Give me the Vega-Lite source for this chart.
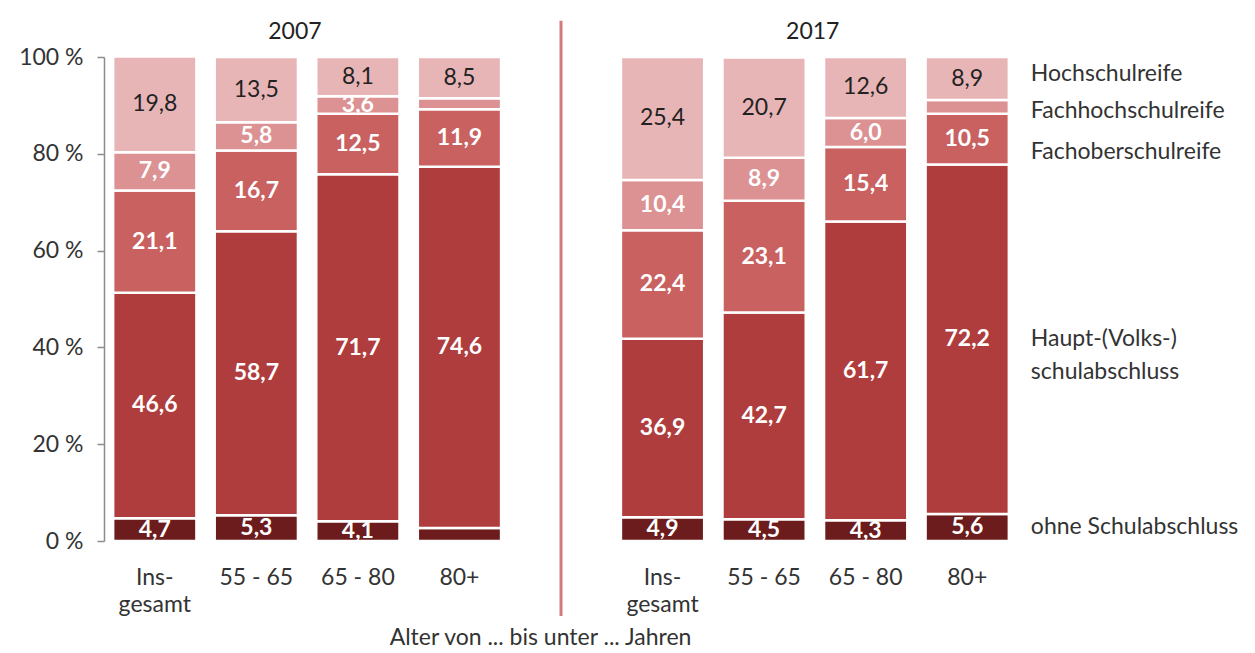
{
  "$schema": "https://vega.github.io/schema/vega-lite/v6.json",
  "width": 914,
  "height": 484,
  "autosize": {"type": "none"},
  "padding": {"left": 104, "top": 57, "right": 237, "bottom": 112},
  "background": "white",
  "config": {
    "locale": {"number": {"decimal": ",", "thousands": ".", "grouping": [3], "currency": ["", " €"]}},
    "font": "Lato",
    "view": {"stroke": null}
  },
  "data": {
    "values": [
      {"slot": "2007 Ins", "cat": "ohne Schulabschluss", "rank": 1, "value": 4.7},
      {"slot": "2007 Ins", "cat": "Haupt-(Volks-)\nschulabschluss", "rank": 2, "value": 46.6},
      {"slot": "2007 Ins", "cat": "Fachoberschulreife", "rank": 3, "value": 21.1},
      {"slot": "2007 Ins", "cat": "Fachhochschulreife", "rank": 4, "value": 7.9},
      {"slot": "2007 Ins", "cat": "Hochschulreife", "rank": 5, "value": 19.8},
      {"slot": "2007 55-65", "cat": "ohne Schulabschluss", "rank": 1, "value": 5.3},
      {"slot": "2007 55-65", "cat": "Haupt-(Volks-)\nschulabschluss", "rank": 2, "value": 58.7},
      {"slot": "2007 55-65", "cat": "Fachoberschulreife", "rank": 3, "value": 16.7},
      {"slot": "2007 55-65", "cat": "Fachhochschulreife", "rank": 4, "value": 5.8},
      {"slot": "2007 55-65", "cat": "Hochschulreife", "rank": 5, "value": 13.5},
      {"slot": "2007 65-80", "cat": "ohne Schulabschluss", "rank": 1, "value": 4.1},
      {"slot": "2007 65-80", "cat": "Haupt-(Volks-)\nschulabschluss", "rank": 2, "value": 71.7},
      {"slot": "2007 65-80", "cat": "Fachoberschulreife", "rank": 3, "value": 12.5},
      {"slot": "2007 65-80", "cat": "Fachhochschulreife", "rank": 4, "value": 3.6},
      {"slot": "2007 65-80", "cat": "Hochschulreife", "rank": 5, "value": 8.1},
      {"slot": "2007 80+", "cat": "ohne Schulabschluss", "rank": 1, "value": 2.7},
      {"slot": "2007 80+", "cat": "Haupt-(Volks-)\nschulabschluss", "rank": 2, "value": 74.6},
      {"slot": "2007 80+", "cat": "Fachoberschulreife", "rank": 3, "value": 11.9},
      {"slot": "2007 80+", "cat": "Fachhochschulreife", "rank": 4, "value": 2.3},
      {"slot": "2007 80+", "cat": "Hochschulreife", "rank": 5, "value": 8.5},
      {"slot": "2017 Ins", "cat": "ohne Schulabschluss", "rank": 1, "value": 4.9},
      {"slot": "2017 Ins", "cat": "Haupt-(Volks-)\nschulabschluss", "rank": 2, "value": 36.9},
      {"slot": "2017 Ins", "cat": "Fachoberschulreife", "rank": 3, "value": 22.4},
      {"slot": "2017 Ins", "cat": "Fachhochschulreife", "rank": 4, "value": 10.4},
      {"slot": "2017 Ins", "cat": "Hochschulreife", "rank": 5, "value": 25.4},
      {"slot": "2017 55-65", "cat": "ohne Schulabschluss", "rank": 1, "value": 4.5},
      {"slot": "2017 55-65", "cat": "Haupt-(Volks-)\nschulabschluss", "rank": 2, "value": 42.7},
      {"slot": "2017 55-65", "cat": "Fachoberschulreife", "rank": 3, "value": 23.1},
      {"slot": "2017 55-65", "cat": "Fachhochschulreife", "rank": 4, "value": 8.9},
      {"slot": "2017 55-65", "cat": "Hochschulreife", "rank": 5, "value": 20.7},
      {"slot": "2017 65-80", "cat": "ohne Schulabschluss", "rank": 1, "value": 4.3},
      {"slot": "2017 65-80", "cat": "Haupt-(Volks-)\nschulabschluss", "rank": 2, "value": 61.7},
      {"slot": "2017 65-80", "cat": "Fachoberschulreife", "rank": 3, "value": 15.4},
      {"slot": "2017 65-80", "cat": "Fachhochschulreife", "rank": 4, "value": 6.0},
      {"slot": "2017 65-80", "cat": "Hochschulreife", "rank": 5, "value": 12.6},
      {"slot": "2017 80+", "cat": "ohne Schulabschluss", "rank": 1, "value": 5.6},
      {"slot": "2017 80+", "cat": "Haupt-(Volks-)\nschulabschluss", "rank": 2, "value": 72.2},
      {"slot": "2017 80+", "cat": "Fachoberschulreife", "rank": 3, "value": 10.5},
      {"slot": "2017 80+", "cat": "Fachhochschulreife", "rank": 4, "value": 2.8},
      {"slot": "2017 80+", "cat": "Hochschulreife", "rank": 5, "value": 8.9}
    ]
  },
  "layer": [
    {
      "transform": [
        {"stack": "value", "groupby": ["slot"], "sort": [{"field": "rank", "order": "ascending"}], "as": ["y0", "y1"]},
        {"calculate": "(datum.y0 + datum.y1) / 2", "as": "ym"}
      ],
      "layer": [
        {
          "mark": {"type": "bar", "stroke": "white", "strokeWidth": 2.5},
          "encoding": {
            "x": {
              "field": "slot",
              "type": "nominal",
              "sort": null,
              "scale": {
                "domain": ["2007 Ins", "2007 55-65", "2007 65-80", "2007 80+", "gap", "2017 Ins", "2017 55-65", "2017 65-80", "2017 80+"],
                "paddingInner": 0.18,
                "paddingOuter": 0.09
              },
              "axis": {
                "domain": false,
                "ticks": false,
                "labelAngle": 0,
                "labelFontSize": 23,
                "labelColor": "#333333",
                "labelPadding": 25,
                "labelLineHeight": 27,
                "labelExpr": "indexof(datum.value, 'Ins') >= 0 ? ['Ins-', 'gesamt'] : (datum.value == 'gap' ? '' : replace(slice(datum.value, 5), '-', ' - '))",
                "title": "Alter von ... bis unter ... Jahren",
                "titleFontSize": 23,
                "titleFontWeight": "normal",
                "titleColor": "#333333",
                "titleX": 436,
                "titleY": 85
              }
            },
            "y": {
              "field": "y1",
              "type": "quantitative",
              "scale": {"domain": [0, 100], "nice": false},
              "axis": {
                "values": [0, 20, 40, 60, 80, 100],
                "labelExpr": "datum.value + ' %'",
                "grid": false,
                "domainColor": "#8c8c8c",
                "domainWidth": 1.5,
                "tickColor": "#8c8c8c",
                "tickWidth": 1.5,
                "tickSize": 7,
                "labelPadding": 14,
                "labelFontSize": 23,
                "labelColor": "#333333",
                "title": null
              }
            },
            "y2": {"field": "y0"},
            "color": {
              "field": "cat",
              "type": "nominal",
              "scale": {
                "domain": ["ohne Schulabschluss", "Haupt-(Volks-)\nschulabschluss", "Fachoberschulreife", "Fachhochschulreife", "Hochschulreife"],
                "range": ["#6c1c1c", "#b03d3d", "#c96161", "#dc9193", "#e8b5b7"]
              },
              "legend": null
            }
          }
        },
        {
          "transform": [{"filter": "datum.rank == 5"}],
          "mark": {"type": "text", "fontSize": 23, "color": "#222222", "baseline": "middle"},
          "encoding": {
            "x": {"field": "slot", "type": "nominal"},
            "y": {"field": "ym", "type": "quantitative"},
            "text": {"field": "value", "type": "quantitative", "format": ".1f"}
          }
        },
        {
          "transform": [{"filter": "datum.rank < 5 && datum.value >= 3"}],
          "mark": {"type": "text", "fontSize": 23, "fontWeight": "bold", "color": "white", "baseline": "middle"},
          "encoding": {
            "x": {"field": "slot", "type": "nominal"},
            "y": {"field": "ym", "type": "quantitative"},
            "text": {"field": "value", "type": "quantitative", "format": ".1f"}
          }
        },
        {
          "transform": [{"filter": "datum.slot == '2017 80+' && datum.rank <= 2"}],
          "mark": {"type": "text", "fontSize": 23, "color": "#333333", "align": "left", "baseline": "middle", "dx": 22, "lineBreak": "\n", "lineHeight": 33},
          "encoding": {
            "x": {"field": "slot", "type": "nominal", "bandPosition": 1},
            "y": {"field": "ym", "type": "quantitative"},
            "text": {"field": "cat", "type": "nominal"}
          }
        },
        {
          "transform": [{"filter": "datum.slot == '2017 80+' && datum.rank == 3"}],
          "mark": {"type": "text", "fontSize": 23, "color": "#333333", "align": "left", "baseline": "middle", "dx": 22, "dy": 13},
          "encoding": {
            "x": {"field": "slot", "type": "nominal", "bandPosition": 1},
            "y": {"field": "ym", "type": "quantitative"},
            "text": {"field": "cat", "type": "nominal"}
          }
        },
        {
          "transform": [{"filter": "datum.slot == '2017 80+' && datum.rank == 4"}],
          "mark": {"type": "text", "fontSize": 23, "color": "#333333", "align": "left", "baseline": "middle", "dx": 22, "dy": 4},
          "encoding": {
            "x": {"field": "slot", "type": "nominal", "bandPosition": 1},
            "y": {"field": "ym", "type": "quantitative"},
            "text": {"field": "cat", "type": "nominal"}
          }
        },
        {
          "transform": [{"filter": "datum.slot == '2017 80+' && datum.rank == 5"}],
          "mark": {"type": "text", "fontSize": 23, "color": "#333333", "align": "left", "baseline": "middle", "dx": 22, "dy": -5},
          "encoding": {
            "x": {"field": "slot", "type": "nominal", "bandPosition": 1},
            "y": {"field": "ym", "type": "quantitative"},
            "text": {"field": "cat", "type": "nominal"}
          }
        }
      ]
    },
    {
      "data": {"values": [{"year": "2007"}]},
      "mark": {"type": "text", "fontSize": 23, "color": "#222222", "baseline": "middle", "dx": -3, "dy": -25},
      "encoding": {
        "x": {"datum": "2007 55-65", "bandPosition": 1},
        "y": {"datum": 100},
        "text": {"field": "year"}
      }
    },
    {
      "data": {"values": [{"year": "2017"}]},
      "mark": {"type": "text", "fontSize": 23, "color": "#222222", "baseline": "middle", "dx": 7, "dy": -25},
      "encoding": {
        "x": {"datum": "2017 55-65", "bandPosition": 1},
        "y": {"datum": 100},
        "text": {"field": "year"}
      }
    },
    {
      "data": {"values": [{"sep": "gap"}]},
      "mark": {"type": "rule", "color": "#d47a7c", "strokeWidth": 3},
      "encoding": {
        "x": {"field": "sep", "type": "nominal"},
        "y": {"datum": 107.5},
        "y2": {"datum": -15.5}
      }
    }
  ]
}
